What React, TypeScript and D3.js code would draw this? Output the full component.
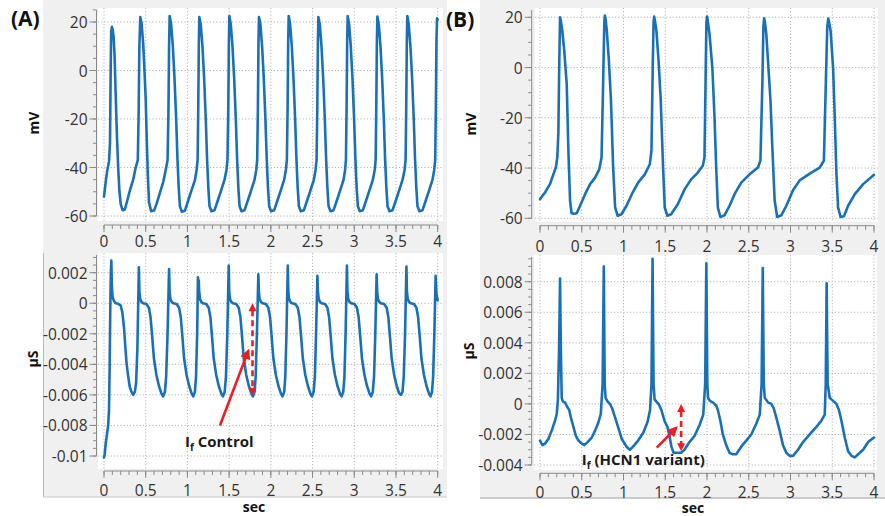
import React from "react";
import * as d3 from "d3";

type Pt = [number, number];

// (A) control: membrane potential (mV) vs time (s)
const controlVoltage: Pt[] = [
  [0, -52], [0.01, -49], [0.02, -46], [0.04, -41], [0.06, -37.5], [0.072, -30], [0.08, 0], [0.086, 16],
  [0.095, 18], [0.103, 17], [0.115, 14], [0.127, 6], [0.14, -10], [0.155, -27], [0.17, -40], [0.185, -50],
  [0.2, -55], [0.222, -57.6], [0.25, -57.3], [0.28, -53.5], [0.31, -49.5], [0.35, -45], [0.38, -40],
  [0.405, -37], [0.415, -18], [0.424, 10],
  [0.435, 22], [0.45, 19.5], [0.47, 11], [0.485, 0], [0.5, -12], [0.512, -28], [0.525, -43], [0.54, -54.5],
  [0.565, -58], [0.6, -57.7], [0.63, -55], [0.67, -50.5], [0.71, -46], [0.74, -41], [0.762, -37], [0.772, -18], [0.78, 10],
  [0.787, 22.5], [0.805, 19], [0.825, 10], [0.845, -3], [0.865, -20], [0.88, -36], [0.895, -48], [0.91, -56],
  [0.932, -58.2], [0.97, -57.8], [1.01, -53.5], [1.05, -49.3], [1.09, -45.2], [1.11, -41], [1.122, -37], [1.13, -15], [1.137, 12],
  [1.143, 22], [1.16, 19], [1.18, 10], [1.2, -3], [1.22, -20], [1.235, -36], [1.25, -48], [1.265, -56],
  [1.288, -58], [1.325, -57.6], [1.365, -53.5], [1.405, -49.3], [1.445, -45], [1.468, -41], [1.48, -37], [1.49, -15], [1.497, 12],
  [1.503, 22.5], [1.52, 19], [1.54, 10], [1.56, -3], [1.58, -20], [1.595, -36], [1.61, -48], [1.625, -56],
  [1.648, -58], [1.685, -57.6], [1.725, -53.5], [1.765, -49.3], [1.805, -45], [1.825, -41], [1.836, -37], [1.845, -15], [1.852, 12],
  [1.858, 22], [1.875, 19], [1.895, 10], [1.915, -3], [1.935, -20], [1.95, -36], [1.965, -48], [1.98, -56],
  [2.003, -58], [2.04, -57.6], [2.08, -53.5], [2.12, -49.3], [2.16, -45], [2.18, -41], [2.192, -37], [2.201, -15], [2.208, 12],
  [2.214, 22.5], [2.231, 19], [2.251, 10], [2.271, -3], [2.291, -20], [2.306, -36], [2.321, -48], [2.336, -56],
  [2.359, -58], [2.396, -57.6], [2.436, -53.5], [2.476, -49.3], [2.516, -45], [2.536, -41], [2.548, -37], [2.557, -15], [2.564, 12],
  [2.57, 22], [2.587, 19], [2.607, 10], [2.627, -3], [2.647, -20], [2.662, -36], [2.677, -48], [2.692, -56],
  [2.715, -58], [2.752, -57.6], [2.792, -53.5], [2.832, -49.3], [2.872, -45], [2.89, -41], [2.9, -37], [2.908, -15], [2.915, 12],
  [2.921, 22.5], [2.938, 19], [2.958, 10], [2.978, -3], [2.998, -20], [3.013, -36], [3.028, -48], [3.043, -56],
  [3.066, -58], [3.103, -57.6], [3.143, -53.5], [3.183, -49.3], [3.223, -45], [3.245, -41], [3.256, -37], [3.264, -15], [3.271, 12],
  [3.277, 22.2], [3.294, 19], [3.314, 10], [3.334, -3], [3.354, -20], [3.369, -36], [3.384, -48], [3.399, -56],
  [3.422, -58], [3.459, -57.6], [3.499, -53.5], [3.539, -49.3], [3.579, -45], [3.603, -41], [3.615, -37], [3.623, -15], [3.63, 12],
  [3.636, 22.5], [3.653, 19], [3.673, 10], [3.693, -3], [3.713, -20], [3.728, -36], [3.743, -48], [3.758, -56],
  [3.781, -58], [3.818, -57.6], [3.858, -53.5], [3.898, -49.3], [3.938, -45], [3.958, -41], [3.97, -37], [3.978, -15], [3.985, 12],
  [3.992, 21.5], [4.0, 21],
];

// (A) control: If conductance (µS)
const controlConductance: Pt[] = [
  [0, -0.0101], [0.008, -0.0099], [0.02, -0.0092], [0.035, -0.0086], [0.05, -0.008], [0.06, -0.007], [0.068, -0.004],
  [0.075, -0.0005], [0.082, 0.002], [0.088, 0.0028],
  [0.094, 0.0011], [0.103, 0.0004], [0.12, 0.00015], [0.14, 0], [0.17, -0.00004], [0.2, -0.00015], [0.22, -0.0006],
  [0.24, -0.0016], [0.255, -0.0028], [0.27, -0.0039], [0.29, -0.0048], [0.31, -0.0055], [0.33, -0.0058], [0.35, -0.006],
  [0.37, -0.0058], [0.385, -0.0052], [0.4, -0.003],
  [0.418, 0.00235], [0.424, 0.0008], [0.433, 0.0003], [0.448, 0.0001], [0.468, 0], [0.508, -0.00005], [0.538, -0.0003],
  [0.558, -0.0009], [0.578, -0.0022], [0.598, -0.0036], [0.628, -0.0047], [0.658, -0.0054], [0.688, -0.0059], [0.708, -0.0061],
  [0.73, -0.0058], [0.745, -0.0048], [0.762, -0.002],
  [0.78, 0.00224], [0.786, 0.0008], [0.795, 0.0003], [0.81, 0.0001], [0.83, 0], [0.87, -0.00005], [0.9, -0.0003],
  [0.92, -0.0009], [0.94, -0.0022], [0.96, -0.0036], [0.99, -0.0047], [1.02, -0.0054], [1.05, -0.0059], [1.07, -0.0061],
  [1.09, -0.0058], [1.103, -0.0048], [1.117, -0.002], [1.126, 0.0017], [1.13, 0.0009],
  [1.135, 0.0015], [1.141, 0.0008], [1.15, 0.0003], [1.165, 0.0001], [1.185, 0], [1.225, -0.00005], [1.255, -0.0003],
  [1.275, -0.0009], [1.295, -0.0022], [1.315, -0.0036], [1.345, -0.0047], [1.375, -0.0054], [1.405, -0.0059], [1.425, -0.0061],
  [1.447, -0.0058], [1.462, -0.0048], [1.478, -0.002],
  [1.495, 0.00246], [1.501, 0.0008], [1.51, 0.0003], [1.525, 0.0001], [1.545, 0], [1.585, -0.00005], [1.615, -0.0003],
  [1.635, -0.0009], [1.655, -0.0022], [1.675, -0.0036], [1.705, -0.0047], [1.735, -0.0054], [1.765, -0.0059], [1.785, -0.0061],
  [1.805, -0.0058], [1.818, -0.0048], [1.833, -0.002],
  [1.85, 0.0019], [1.856, 0.0008], [1.865, 0.0003], [1.88, 0.0001], [1.9, 0], [1.94, -0.00005], [1.97, -0.0003],
  [1.99, -0.0009], [2.01, -0.0022], [2.03, -0.0036], [2.06, -0.0047], [2.09, -0.0054], [2.12, -0.0059], [2.14, -0.0061],
  [2.16, -0.0058], [2.173, -0.0048], [2.187, -0.002],
  [2.203, 0.00246], [2.209, 0.0008], [2.218, 0.0003], [2.233, 0.0001], [2.253, 0], [2.293, -0.00005], [2.323, -0.0003],
  [2.343, -0.0009], [2.363, -0.0022], [2.383, -0.0036], [2.413, -0.0047], [2.443, -0.0054], [2.473, -0.0059], [2.493, -0.0061],
  [2.513, -0.0058], [2.528, -0.0048], [2.542, -0.002],
  [2.558, 0.0018], [2.564, 0.0008], [2.573, 0.0003], [2.588, 0.0001], [2.608, 0], [2.648, -0.00005], [2.678, -0.0003],
  [2.698, -0.0009], [2.718, -0.0022], [2.738, -0.0036], [2.768, -0.0047], [2.798, -0.0054], [2.828, -0.0059], [2.848, -0.0061],
  [2.868, -0.0058], [2.882, -0.0048], [2.896, -0.002],
  [2.912, 0.00246], [2.918, 0.0008], [2.927, 0.0003], [2.942, 0.0001], [2.962, 0], [3.002, -0.00005], [3.032, -0.0003],
  [3.052, -0.0009], [3.072, -0.0022], [3.092, -0.0036], [3.122, -0.0047], [3.152, -0.0054], [3.182, -0.0059], [3.202, -0.0061],
  [3.222, -0.0058], [3.237, -0.0048], [3.252, -0.002],
  [3.268, 0.0019], [3.274, 0.0008], [3.283, 0.0003], [3.298, 0.0001], [3.318, 0], [3.358, -0.00005], [3.388, -0.0003],
  [3.408, -0.0009], [3.428, -0.0022], [3.448, -0.0036], [3.478, -0.0047], [3.508, -0.0054], [3.538, -0.0059], [3.558, -0.006],
  [3.578, -0.0058], [3.593, -0.0048], [3.609, -0.002],
  [3.625, 0.0024], [3.631, 0.0008], [3.64, 0.0003], [3.655, 0.0001], [3.675, 0], [3.715, -0.00005], [3.745, -0.0003],
  [3.765, -0.0009], [3.785, -0.0022], [3.805, -0.0036], [3.835, -0.0047], [3.865, -0.0054], [3.895, -0.0059], [3.915, -0.0061],
  [3.932, -0.0058], [3.945, -0.0048], [3.96, -0.002],
  [3.975, 0.0018], [3.985, 0.0006], [4.0, 0.0002],
];

// (B) HCN1 variant: membrane potential (mV)
const variantVoltage: Pt[] = [
  [0, -52.4], [0.03, -51], [0.06, -49.8], [0.09, -48], [0.12, -46.4], [0.16, -42.5], [0.19, -39.8], [0.207, -35.8],
  [0.22, -26], [0.23, 0], [0.24, 20], [0.248, 19], [0.267, 14.7], [0.29, 6.7], [0.32, -6.6], [0.34, -33], [0.36, -53],
  [0.378, -58], [0.41, -58.2], [0.44, -58], [0.48, -55], [0.54, -50.4], [0.6, -46.4], [0.66, -43.8], [0.71, -40.5],
  [0.737, -35.8], [0.757, -5], [0.77, 18], [0.777, 20.7], [0.785, 19.5], [0.8, 14.7], [0.825, 2.7], [0.85, -13],
  [0.876, -39.8], [0.9, -55.7], [0.93, -59], [0.976, -58.4], [1.036, -55], [1.1, -50.4], [1.175, -45.8], [1.255, -42.5],
  [1.315, -38.5], [1.335, -33], [1.35, 0], [1.36, 18], [1.367, 20.3], [1.375, 19], [1.394, 14.7], [1.42, 2.7],
  [1.446, -13], [1.474, -39.8], [1.494, -55.7], [1.526, -59], [1.57, -58.4], [1.65, -54.4], [1.733, -48.4],
  [1.81, -44.5], [1.89, -41.8], [1.95, -39.1], [1.97, -35.8], [1.985, 0], [1.993, 18], [2.0, 20.3], [2.008, 19],
  [2.03, 13.4], [2.064, 0], [2.09, -19.9], [2.11, -39.8], [2.13, -55.7], [2.16, -59.5], [2.21, -58.8], [2.27, -55],
  [2.33, -50.4], [2.41, -45.8], [2.51, -42.5], [2.61, -39.8], [2.64, -37], [2.664, -5], [2.675, 16], [2.684, 19.6],
  [2.692, 18.5], [2.71, 13.4], [2.73, 3], [2.76, -13], [2.784, -33], [2.81, -52.8], [2.84, -59.5], [2.89, -58.8],
  [2.95, -55], [3.03, -48.8], [3.11, -44.9], [3.23, -42.2], [3.35, -39.8], [3.4, -37], [3.424, -5], [3.44, 16],
  [3.452, 19.5], [3.46, 18.5], [3.48, 14.7], [3.51, 0], [3.53, -19.9], [3.55, -42.5], [3.57, -55.7], [3.6, -59.5],
  [3.64, -59.2], [3.69, -55], [3.77, -50.4], [3.87, -46.4], [4.0, -42.7],
];

// (B) HCN1 variant: If conductance (µS)
const variantConductance: Pt[] = [
  [0, -0.0024], [0.03, -0.0027], [0.06, -0.0026], [0.1, -0.0023], [0.14, -0.00175], [0.18, -0.0011], [0.2, -0.00066],
  [0.214, 0.0002], [0.228, 0.0035], [0.24, 0.0082], [0.25, 0.0035], [0.26, 0.0004], [0.275, 0.00015], [0.3, 0.0001],
  [0.327, -0.0002], [0.35, -0.0004], [0.37, -0.0009], [0.4, -0.0015], [0.43, -0.0021], [0.46, -0.0024], [0.5, -0.0026],
  [0.53, -0.0027], [0.57, -0.0025], [0.62, -0.0022], [0.66, -0.00175], [0.7, -0.0012], [0.728, -0.00066],
  [0.75, 0.0013], [0.764, 0.009], [0.775, 0.0013], [0.785, 0.0004], [0.81, 0.00015], [0.837, 0], [0.865, -0.0003],
  [0.9, -0.0009], [0.94, -0.0016], [0.98, -0.0023], [1.036, -0.0028], [1.076, -0.003], [1.115, -0.0028], [1.175, -0.0024],
  [1.235, -0.0019], [1.287, -0.0012], [1.318, -0.0004], [1.335, 0.0013], [1.348, 0.0095], [1.36, 0.0013],
  [1.372, 0.0003], [1.394, 0.00015], [1.42, 0], [1.454, -0.0004], [1.49, -0.0011], [1.526, -0.0015], [1.554, -0.0022],
  [1.574, -0.0028], [1.6, -0.0032], [1.65, -0.0032], [1.69, -0.0032], [1.73, -0.003], [1.79, -0.0025], [1.85, -0.0021],
  [1.91, -0.0014], [1.955, -0.0007], [1.978, 0.0013], [1.992, 0.0092], [2.004, 0.0013], [2.012, 0.0004], [2.035, 0.0002],
  [2.07, 0.0001], [2.11, -0.0001], [2.13, -0.0004], [2.16, -0.0011], [2.19, -0.002], [2.23, -0.0027], [2.27, -0.0032],
  [2.31, -0.0033], [2.35, -0.0033], [2.41, -0.0028], [2.47, -0.0024], [2.53, -0.002], [2.59, -0.0013], [2.632, -0.0007],
  [2.654, 0.0013], [2.668, 0.0089], [2.68, 0.0013], [2.692, 0.0004], [2.73, 0.0001], [2.77, 0], [2.8, -0.0003],
  [2.83, -0.0009], [2.87, -0.00175], [2.91, -0.0027], [2.95, -0.0032], [2.99, -0.0034], [3.03, -0.0034], [3.09, -0.003],
  [3.15, -0.0025], [3.23, -0.002], [3.31, -0.0015], [3.37, -0.0011], [3.41, -0.0007], [3.422, 0.0013], [3.433, 0.0079],
  [3.445, 0.0013], [3.47, 0.0004], [3.51, 0.0002], [3.55, 0], [3.58, -0.0004], [3.61, -0.0011], [3.65, -0.0022],
  [3.69, -0.0031], [3.73, -0.0034], [3.77, -0.0035], [3.81, -0.0033], [3.87, -0.003], [3.93, -0.0025], [4.0, -0.0022],
];

const secTicks = [0, 0.5, 1, 1.5, 2, 2.5, 3, 3.5, 4];
const secLabels = ["0", "0.5", "1", "1.5", "2", "2.5", "3", "3.5", "4"];
const mvTicks = [-60, -40, -20, 0, 20];
const mvLabels = ["-60", "-40", "-20", "0", "20"];
const controlUsTicks = [-0.01, -0.008, -0.006, -0.004, -0.002, 0, 0.002];
const controlUsLabels = ["-0.01", "-0.008", "-0.006", "-0.004", "-0.002", "0", "0.002"];
const variantUsTicks = [-0.004, -0.002, 0, 0.002, 0.004, 0.006, 0.008];
const variantUsLabels = ["-0.004", "-0.002", "0", "0.002", "0.004", "0.006", "0.008"];

const TRACE = "#1a70b6";
const RED = "#ee1c25";
const AXIS = "#8a8a8a";
const FONT = "'Open Sans', 'DejaVu Sans', sans-serif";

interface PlotProps {
  data: Pt[];
  xRange: [number, number];
  yDomain: [number, number];
  yRange: [number, number];
  box: { x: number; y: number; w: number; h: number };
  yTicks: number[];
  yLabels: string[];
  yMinorStep: number;
  yAxisX: number;
  xAxisY: number;
  xLabelY: number;
  children?: (x: d3.ScaleLinear<number, number>, y: d3.ScaleLinear<number, number>) => React.ReactNode;
}

function Plot(p: PlotProps) {
  const x = d3.scaleLinear().domain([0, 4]).range(p.xRange);
  const y = d3.scaleLinear().domain(p.yDomain).range(p.yRange);
  const line = d3.line<Pt>().x(d => x(d[0])).y(d => y(d[1]));
  const { box } = p;
  const yMinor = d3
    .range(0, 40)
    .map(i => p.yDomain[0] + i * p.yMinorStep)
    .filter(v => y(v) >= box.y + 1);
  const xMinor = d3.range(0, 41).map(i => i / 10);

  return (
    <g>
      <rect x={box.x} y={box.y} width={box.w} height={box.h} fill="#fff" />
      {/* dotted grid */}
      {secTicks.map(t => (
        <line key={"gx" + t} x1={x(t)} x2={x(t)} y1={box.y} y2={box.y + box.h}
          stroke="#b4b4b4" strokeDasharray="1.2,2" />
      ))}
      {p.yTicks.map(v => (
        <line key={"gy" + v} x1={box.x} x2={box.x + box.w} y1={y(v)} y2={y(v)}
          stroke="#b4b4b4" strokeDasharray="1.2,2" />
      ))}
      {/* y axis */}
      <line x1={p.yAxisX} x2={p.yAxisX} y1={box.y + 2} y2={y(p.yDomain[0])} stroke={AXIS} />
      {yMinor.map((v, i) => (
        <line key={"ym" + i} x1={p.yAxisX - 3.5} x2={p.yAxisX} y1={y(v)} y2={y(v)} stroke={AXIS} />
      ))}
      {p.yTicks.map((v, i) => (
        <g key={"yt" + v}>
          <line x1={p.yAxisX - 7} x2={p.yAxisX} y1={y(v)} y2={y(v)} stroke={AXIS} />
          <text x={p.yAxisX - 9} y={y(v)} textAnchor="end" dominantBaseline="central"
            fontFamily={FONT} fontSize={15.5} fill="#333">{p.yLabels[i]}</text>
        </g>
      ))}
      {/* x axis */}
      <line x1={x(0)} x2={x(4)} y1={p.xAxisY} y2={p.xAxisY} stroke={AXIS} />
      {xMinor.map(t => (
        <line key={"xm" + t} x1={x(t)} x2={x(t)} y1={p.xAxisY} y2={p.xAxisY + 4} stroke={AXIS} />
      ))}
      {secTicks.map((t, i) => (
        <g key={"xt" + t}>
          <line x1={x(t)} x2={x(t)} y1={p.xAxisY} y2={p.xAxisY + 7} stroke={AXIS} />
          <text x={x(t)} y={p.xLabelY} textAnchor="middle" dominantBaseline="central"
            fontFamily={FONT} fontSize={15.5} fill="#333">{secLabels[i]}</text>
        </g>
      ))}
      <path d={line(p.data) ?? ""} fill="none" stroke={TRACE} strokeWidth={2.6}
        strokeLinejoin="round" strokeLinecap="round" />
      {p.children && p.children(x, y)}
    </g>
  );
}

function Annotation({ x, y, dashT, dashLow, tail, tip, textAt, label }: {
  x: d3.ScaleLinear<number, number>; y: d3.ScaleLinear<number, number>;
  dashT: number; dashLow: number; tail: Pt; tip: Pt; textAt: Pt; label: string;
}) {
  return (
    <g>
      <line x1={x(dashT)} x2={x(dashT)} y1={y(0) + 7} y2={y(dashLow) - 7} stroke={RED}
        strokeWidth={2.6} strokeDasharray="6,4" />
      <path d={`M${x(dashT)},${y(0)} l-4,8 l8,0 z`} fill={RED} />
      <path d={`M${x(dashT)},${y(dashLow)} l-4,-8 l8,0 z`} fill={RED} />
      <line x1={x(tail[0])} y1={y(tail[1])} x2={x(tip[0])} y2={y(tip[1])} stroke={RED}
        strokeWidth={2.6} markerEnd="url(#redhead)" />
      <text x={x(textAt[0])} y={y(textAt[1])} fontFamily={FONT} fontWeight="bold" fontSize={15} fill="#1a1a1a">
        I<tspan fontSize={10} dy={4}>f</tspan><tspan dy={-4}>{" " + label}</tspan>
      </text>
    </g>
  );
}

function AxisTitle({ x, y, text, rotate }: { x: number; y: number; text: string; rotate?: boolean }) {
  return (
    <text x={x} y={y} transform={rotate ? `rotate(-90 ${x} ${y})` : undefined} textAnchor="middle"
      dominantBaseline="central" fontFamily={FONT} fontWeight="bold" fontSize={14} fill="#111">{text}</text>
  );
}

export default function App() {
  return (
    <svg width={885} height={516} style={{ position: "absolute", left: 0, top: 0, background: "#fff" }}>
      <defs>
        <marker id="redhead" viewBox="0 0 10 10" refX={8} refY={5} markerWidth={4} markerHeight={4}
          orient="auto" markerUnits="strokeWidth">
          <path d="M0,0 L10,5 L0,10 z" fill={RED} />
        </marker>
      </defs>

      {/* panel backgrounds */}
      <rect x={43} y={0} width={404} height={497} fill="#f0f0f0" />
      <line x1={43} x2={447} y1={497} y2={497} stroke="#c8c8c8" />
      <line x1={43.5} x2={43.5} y1={253} y2={497} stroke="#9fc4e2" />
      <rect x={480} y={0} width={405} height={498} fill="#f0f0f0" />
      <line x1={480} x2={885} y1={498} y2={498} stroke="#bdbdbd" strokeWidth={1.5} />

      {/* (A) control */}
      <Plot data={controlVoltage} xRange={[104, 437.7]} yDomain={[-60, 20]} yRange={[216, 22]}
        box={{ x: 98, y: 8, w: 345, h: 213 }} yTicks={mvTicks} yLabels={mvLabels} yMinorStep={5}
        yAxisX={96.5} xAxisY={225} xLabelY={241} />
      <Plot data={controlConductance} xRange={[104, 437.7]} yDomain={[-0.01, 0.002]} yRange={[456, 272.7]}
        box={{ x: 98, y: 253, w: 345, h: 216 }} yTicks={controlUsTicks} yLabels={controlUsLabels}
        yMinorStep={0.0005} yAxisX={96.5} xAxisY={471} xLabelY={490}>
        {(x, y) => (
          <Annotation x={x} y={y} dashT={1.78} dashLow={-0.00605} tail={[1.39, -0.008]} tip={[1.73, -0.0031]}
            textAt={[0.97, -0.00942]} label="Control" />
        )}
      </Plot>

      {/* (B) HCN1 variant */}
      <Plot data={variantVoltage} xRange={[540, 874]} yDomain={[-60, 20]} yRange={[218.3, 17.3]}
        box={{ x: 535, y: 8, w: 343, h: 214 }} yTicks={mvTicks} yLabels={mvLabels} yMinorStep={5}
        yAxisX={531.7} xAxisY={225.7} xLabelY={246} />
      <Plot data={variantConductance} xRange={[540, 874]} yDomain={[-0.004, 0.008]} yRange={[465, 281.7]}
        box={{ x: 534, y: 255, w: 343, h: 215 }} yTicks={variantUsTicks} yLabels={variantUsLabels}
        yMinorStep={0.0005} yAxisX={531.7} xAxisY={473.3} xLabelY={491.7}>
        {(x, y) => (
          <Annotation x={x} y={y} dashT={1.69} dashLow={-0.0031} tail={[1.398, -0.00286]} tip={[1.632, -0.00156]}
            textAt={[0.5, -0.00397]} label="(HCN1 variant)" />
        )}
      </Plot>

      {/* axis titles */}
      <AxisTitle x={33} y={123} text="mV" rotate />
      <AxisTitle x={32} y={359} text="µS" rotate />
      <AxisTitle x={254} y={506} text="sec" />
      <AxisTitle x={470} y={124} text="mV" rotate />
      <AxisTitle x={468} y={351} text="µS" rotate />
      <AxisTitle x={693} y={507} text="sec" />

      {/* panel letters */}
      <text x={11} y={26} fontFamily={FONT} fontWeight="bold" fontSize={21} fill="#111">(A)</text>
      <text x={446} y={27} fontFamily={FONT} fontWeight="bold" fontSize={21} fill="#111">(B)</text>
    </svg>
  );
}
